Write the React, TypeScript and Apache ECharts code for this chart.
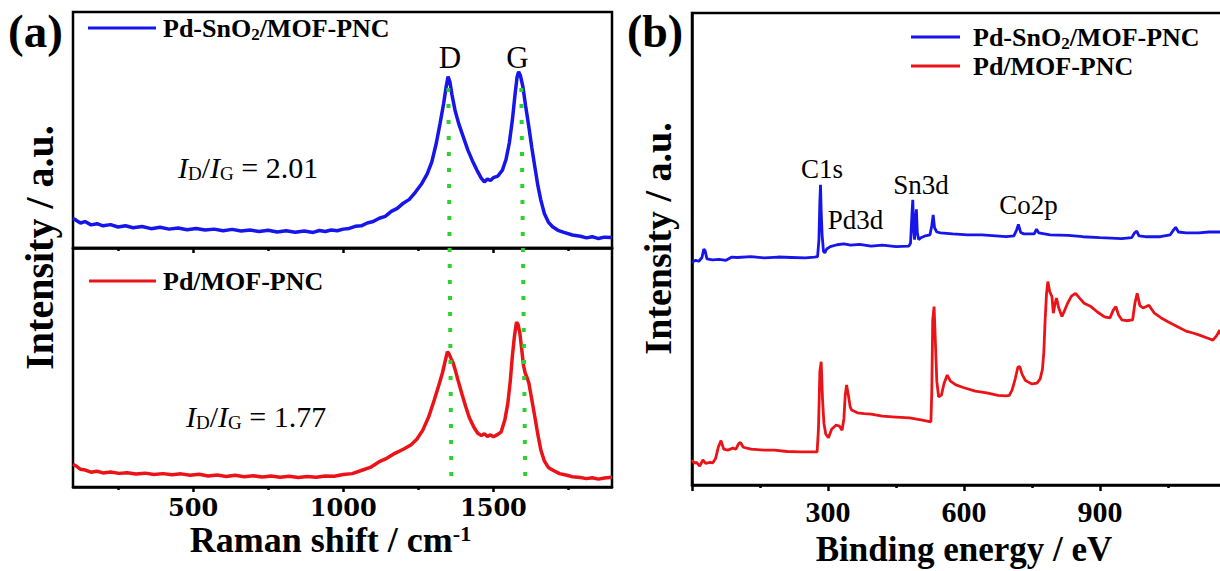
import React, { useEffect, useRef } from 'react';
import * as echarts from 'echarts';

const FONT = '"Liberation Serif", "Times New Roman", serif';
const BLUE = '#1616ea';
const RED = '#ea1418';
const GREEN = '#2fd12f';

const seriesNames = ['Pd-SnO2/MOF-PNC', 'Pd/MOF-PNC'];
const ramanMajorTicks = [500, 1000, 1500];
const ramanMinorTicks = [250, 750, 1250, 1750];
const ratioValues = ['2.01', '1.77'];
const bandNames = ['D', 'G'];
const xpsPeakNames = ['C1s', 'Pd3d', 'Sn3d', 'Co2p'];

// Raman, Pd-SnO2/MOF-PNC (top panel, a.u. 0-100)
const ramanBlue: number[][] = [
  [100, 12.5], [110, 11.8], [125, 10.6], [140, 11.2], [160, 9.8], [180, 10.3], [200, 9.4], [225, 9.9],
  [250, 8.9], [275, 9.4], [300, 8.6], [330, 9.1], [360, 8.2], [390, 8.8], [420, 8.0], [450, 8.5],
  [480, 7.7], [510, 8.3], [540, 7.6], [570, 8.0], [600, 7.3], [630, 7.9], [660, 7.2], [690, 7.6],
  [720, 7.0], [750, 7.5], [780, 6.8], [810, 7.3], [840, 6.7], [870, 7.2], [900, 6.6], [920, 7.4],
  [940, 7.0], [960, 7.6], [980, 7.3], [1000, 8.0], [1020, 8.3], [1040, 9.2], [1060, 9.4], [1080, 10.6],
  [1100, 11.2], [1120, 12.6], [1140, 13.4], [1160, 15.5], [1180, 16.8], [1200, 19.0], [1220, 20.6],
  [1240, 23.6], [1260, 27.0], [1280, 31.5], [1295, 36.5], [1310, 44.5], [1322, 52.5], [1334, 61.0],
  [1343, 68.5], [1349, 72.6], [1355, 70.5], [1362, 65.0], [1372, 58.5], [1385, 52.5], [1400, 47.0],
  [1415, 41.5], [1430, 37.0], [1445, 33.0], [1460, 29.5], [1470, 28.0], [1480, 29.2], [1490, 28.6],
  [1500, 29.8], [1515, 30.5], [1530, 33.0], [1542, 37.5], [1553, 44.5], [1563, 54.0], [1572, 65.0],
  [1579, 72.5], [1584, 74.7], [1590, 73.0], [1598, 68.5], [1607, 60.5], [1618, 51.4], [1628, 42.5],
  [1638, 34.4], [1648, 26.5], [1658, 20.3], [1670, 14.5], [1683, 11.0], [1697, 9.0], [1715, 7.5],
  [1735, 6.6], [1763, 5.5], [1790, 5.0], [1810, 4.3], [1829, 4.8], [1850, 4.0], [1870, 4.6], [1895, 4.5],
];

// Raman, Pd/MOF-PNC (bottom panel, a.u. 0-100)
const ramanRed: number[][] = [
  [100, 9.5], [110, 8.8], [125, 7.4], [141, 7.1], [160, 6.2], [180, 6.6], [200, 5.9], [225, 6.3],
  [253, 5.7], [280, 6.0], [310, 5.4], [340, 5.8], [370, 5.2], [400, 5.6], [430, 5.1], [460, 5.5],
  [490, 4.9], [520, 5.3], [550, 4.6], [580, 5.0], [610, 4.4], [640, 4.9], [670, 4.3], [700, 4.7],
  [730, 4.2], [760, 4.6], [790, 4.1], [820, 4.5], [850, 4.0], [880, 4.4], [910, 4.1], [940, 4.6],
  [970, 4.5], [1000, 5.2], [1030, 5.6], [1060, 6.9], [1090, 8.2], [1120, 10.6], [1145, 12.0],
  [1172, 14.1], [1200, 15.8], [1225, 17.6], [1245, 20.0], [1265, 23.8], [1285, 29.5], [1303, 36.4],
  [1318, 42.5], [1330, 47.6], [1340, 53.0], [1347, 56.6], [1353, 55.5], [1360, 53.5], [1366, 51.9],
  [1374, 48.5], [1382, 44.8], [1395, 39.0], [1408, 33.6], [1420, 29.0], [1435, 25.0], [1448, 22.5],
  [1460, 21.5], [1470, 22.3], [1480, 21.2], [1490, 21.8], [1500, 21.0], [1515, 22.0], [1526, 23.1],
  [1538, 28.0], [1548, 35.0], [1556, 44.0], [1563, 54.5], [1570, 63.0], [1577, 69.0], [1582, 68.0],
  [1588, 64.5], [1594, 58.0], [1600, 51.0], [1606, 47.6], [1612, 45.8], [1618, 43.5], [1628, 36.5],
  [1638, 29.4], [1648, 22.0], [1658, 15.5], [1670, 10.8], [1683, 8.2], [1697, 7.1], [1720, 5.6],
  [1745, 4.9], [1763, 4.3], [1790, 4.0], [1810, 3.5], [1829, 3.9], [1850, 3.3], [1870, 3.8], [1895, 4.1],
];

// D and G band guide lines (overlay spanning both Raman panels)
const dBandLine: number[][] = [[1350, 84.0], [1360, 2.1]];
const gBandLine: number[][] = [[1593, 84.0], [1606, 2.1]];

// XPS survey, Pd-SnO2/MOF-PNC
const xpsBlue: number[][] = [
  [0, 47.2], [8, 47.6], [15, 47.4], [22, 48.2], [26, 50.0], [29, 49.6], [33, 47.9], [45, 47.7],
  [60, 47.8], [75, 47.6], [88, 48.3], [100, 48.2], [130, 48.4], [160, 48.1], [190, 48.3], [220, 48.2],
  [250, 48.1], [270, 48.3], [277, 48.4], [280, 52.0], [282, 60.0], [283.5, 63.6], [285, 58.0],
  [287, 53.0], [290, 49.5], [293, 49.2], [297, 50.0], [305, 50.5], [320, 50.9], [335, 51.1],
  [350, 50.8], [370, 51.0], [395, 50.6], [420, 50.8], [450, 50.5], [478, 50.6], [482, 51.2],
  [485, 57.0], [487, 60.4], [489, 54.0], [491, 52.0], [493, 56.0], [495, 58.4], [497, 53.5],
  [500, 52.0], [505, 52.4], [515, 52.8], [525, 53.0], [529, 55.0], [532, 57.2], [535, 54.5],
  [540, 53.6], [548, 53.4], [575, 53.2], [608, 53.0], [640, 53.0], [670, 52.8], [693, 52.6],
  [710, 52.8], [716, 54.0], [720, 55.2], [725, 53.5], [732, 53.2], [755, 53.2], [760, 54.2],
  [765, 53.4], [790, 53.0], [830, 52.9], [862, 52.6], [900, 52.4], [948, 52.2], [970, 52.4],
  [976, 53.4], [981, 53.8], [986, 52.8], [1000, 52.6], [1033, 52.6], [1055, 53.0], [1062, 54.0],
  [1067, 54.6], [1073, 53.6], [1090, 53.4], [1118, 53.4], [1140, 53.6], [1169, 53.6], [1200, 53.5],
];

// XPS survey, Pd/MOF-PNC
const xpsRed: number[][] = [
  [0, 5.3], [5, 4.6], [10, 4.8], [17, 4.0], [24, 5.3], [30, 4.6], [40, 4.8], [46, 4.7], [52, 5.6],
  [58, 8.0], [64, 9.4], [70, 7.6], [79, 7.4], [90, 7.8], [97, 7.6], [103, 8.8], [107, 9.0], [113, 8.0],
  [130, 7.6], [160, 7.4], [182, 7.4], [210, 7.1], [240, 7.0], [260, 7.0], [276, 7.0], [279, 12.0],
  [282, 24.0], [285, 26.1], [288, 18.0], [291, 13.1], [295, 10.8], [301, 10.0], [308, 11.8],
  [318, 12.7], [325, 12.5], [331, 11.6], [335, 14.0], [338, 19.0], [341, 21.2], [345, 19.0],
  [349, 16.5], [352, 15.9], [365, 15.3], [380, 15.1], [395, 15.0], [420, 14.6], [450, 14.4],
  [480, 14.2], [505, 13.8], [527, 13.4], [529, 20.0], [531, 35.0], [534, 37.8], [537, 30.0],
  [540, 22.0], [544, 18.7], [550, 19.0], [556, 21.5], [563, 23.3], [570, 22.0], [582, 21.2],
  [600, 20.6], [625, 19.9], [650, 19.5], [675, 19.0], [693, 18.9], [700, 19.0], [706, 20.1],
  [713, 22.5], [719, 25.0], [723, 25.1], [728, 23.5], [735, 22.2], [740, 21.9], [750, 21.4],
  [761, 21.6], [768, 22.5], [773, 24.5], [776, 28.0], [779, 35.0], [782, 40.5], [785, 43.1],
  [789, 41.0], [794, 39.9], [797, 36.4], [801, 38.5], [804, 39.6], [809, 37.5], [816, 35.7],
  [822, 37.0], [829, 38.6], [837, 40.0], [846, 40.6], [855, 39.6], [865, 38.5], [880, 37.8],
  [895, 36.6], [910, 35.6], [922, 35.4], [929, 37.0], [935, 37.8], [941, 36.0], [948, 35.0],
  [958, 34.8], [972, 35.0], [977, 38.5], [982, 40.6], [988, 38.0], [995, 37.5], [1002, 37.8],
  [1008, 38.1], [1020, 36.4], [1035, 35.4], [1050, 34.6], [1070, 33.6], [1090, 32.6], [1105, 32.2],
  [1118, 31.8], [1135, 31.2], [1149, 30.7], [1157, 31.6], [1164, 32.8], [1170, 31.0], [1176, 30.4],
  [1200, 29.8],
];

const legendRich = {
  b: { fontFamily: FONT, fontWeight: 'bold', fontSize: 26, color: '#000' },
  s: { fontFamily: FONT, fontWeight: 'bold', fontSize: 17, color: '#000', padding: [12, 0, 0, 0] },
};
const legendFormatter = (name: string) =>
  name === seriesNames[0] ? '{b|Pd-SnO}{s|2}{b|/MOF-PNC}' : '{b|' + name + '}';

const ratioRich = {
  i: { fontFamily: FONT, fontStyle: 'italic', fontSize: 30, fill: '#000' },
  s: { fontFamily: FONT, fontSize: 19, fill: '#000', padding: [13, 0, 0, 0] },
  n: { fontFamily: FONT, fontSize: 30, fill: '#000' },
};
const ratioText = (v: string) => '{i|I}{s|D}{n|/}{i|I}{s|G}{n| = ' + v + '}';

const axisLineStyle = { color: '#000', width: 2.5 };
const plainNumber = (v: number) => String(v);

function ramanAxis(gridIndex: number, minor: boolean, labels: boolean, extra: any = {}) {
  return {
    type: 'value', gridIndex, min: 100, max: 1895, position: 'bottom',
    splitLine: { show: false },
    axisLine: { show: !minor, lineStyle: axisLineStyle },
    axisTick: {
      show: true, inside: false, length: minor ? 3 : 5,
      lineStyle: { color: '#000', width: 2.5 },
      customValues: minor ? ramanMinorTicks : ramanMajorTicks,
    },
    axisLabel: labels
      ? {
          show: true, customValues: ramanMajorTicks, formatter: plainNumber,
          fontFamily: '"DejaVu Serif", serif', fontWeight: 'bold', fontSize: 24, color: '#000', margin: 8,
        }
      : { show: false },
    ...extra,
  };
}

const gridFrame = { show: true, borderColor: '#000', borderWidth: 2.5, backgroundColor: 'transparent', containLabel: false, outerBoundsMode: 'none' };

function textEl(x: number, y: number, text: string, size: number, bold: boolean, extra: any = {}) {
  return {
    type: 'text', x, y, silent: true,
    style: {
      text, fontFamily: FONT, fontSize: size, fontWeight: bold ? 'bold' : 'normal', fill: '#000',
      align: 'center', verticalAlign: 'middle', textAlign: 'center', textVerticalAlign: 'middle',
      ...extra,
    },
  };
}

const option: any = {
  animation: false,
  backgroundColor: '#fff',
  grid: [
    { left: 73, top: 12, width: 539, height: 236, ...gridFrame },
    { left: 73, top: 248, width: 539, height: 239, ...gridFrame },
    { left: 73, top: 12, width: 539, height: 475, show: false, containLabel: false, outerBoundsMode: 'none' },
    { left: 692, top: 13, width: 544, height: 472, ...gridFrame },
  ],
  xAxis: [
    ramanAxis(0, false, false),
    ramanAxis(0, true, false),
    ramanAxis(1, false, true, {
      name: '{b|Raman shift / cm}{p|-1}',
      nameLocation: 'middle',
      nameGap: 35,
      nameMoveOverlap: false,
      nameTextStyle: {
        padding: [0, 24, 0, 0],
        rich: {
          b: { fontFamily: FONT, fontWeight: 'bold', fontSize: 36, color: '#000' },
          p: { fontFamily: FONT, fontWeight: 'bold', fontSize: 22, color: '#000', padding: [0, 0, 14, 0] },
        },
      },
    }),
    ramanAxis(1, true, false),
    { type: 'value', gridIndex: 2, min: 100, max: 1895, show: false },
    {
      type: 'value', gridIndex: 3, min: 0, max: 1200, interval: 300, position: 'bottom',
      splitLine: { show: false },
      axisLine: { show: true, lineStyle: axisLineStyle },
      axisTick: { show: true, inside: false, length: 6, lineStyle: { color: '#000', width: 2.5 } },
      minorTick: { show: true, splitNumber: 2, length: 3, lineStyle: { color: '#000', width: 2.5 } },
      axisLabel: {
        show: true, showMinLabel: false, showMaxLabel: false, formatter: plainNumber,
        fontFamily: FONT, fontWeight: 'bold', fontSize: 30, color: '#000', margin: 11,
      },
      name: 'Binding energy / eV',
      nameLocation: 'middle',
      nameGap: 47,
      nameMoveOverlap: false,
      nameTextStyle: { fontFamily: FONT, fontWeight: 'bold', fontSize: 35, color: '#000' },
    },
  ],
  yAxis: [
    { type: 'value', gridIndex: 0, min: 0, max: 100, show: false },
    { type: 'value', gridIndex: 1, min: 0, max: 100, show: false },
    {
      type: 'value', gridIndex: 2, min: 0, max: 100,
      axisLine: { show: false }, axisTick: { show: false }, axisLabel: { show: false }, splitLine: { show: false },
      name: 'Intensity / a.u.', nameLocation: 'middle', nameGap: 14, nameMoveOverlap: false,
      nameTextStyle: { fontFamily: FONT, fontWeight: 'bold', fontSize: 40, color: '#000', padding: [0, 0, 0, 4] },
    },
    {
      type: 'value', gridIndex: 3, min: 0, max: 100,
      axisLine: { show: true, lineStyle: axisLineStyle }, axisTick: { show: false }, axisLabel: { show: false }, splitLine: { show: false },
      name: 'Intensity / a.u.', nameLocation: 'middle', nameGap: 15, nameMoveOverlap: false,
      nameTextStyle: { fontFamily: FONT, fontWeight: 'bold', fontSize: 38, color: '#000', padding: [0, 0, 0, 21] },
    },
  ],
  legend: [
    {
      data: [seriesNames[0]], left: 88, top: 15, padding: 0, icon: 'rect', itemWidth: 68, itemHeight: 3,
      selectedMode: false, formatter: legendFormatter, textStyle: { rich: legendRich, padding: [0, 0, 0, 2] },
    },
    {
      data: [seriesNames[1]], left: 89, top: 268, padding: 0, icon: 'rect', itemWidth: 67, itemHeight: 3,
      selectedMode: false, formatter: legendFormatter, textStyle: { rich: legendRich, padding: [0, 0, 0, 2] },
    },
    {
      data: seriesNames, left: 911, top: 24, padding: 0, orient: 'vertical', icon: 'rect', itemWidth: 49, itemHeight: 3,
      itemGap: 1.5, selectedMode: false, formatter: legendFormatter, textStyle: { rich: legendRich, padding: [0, 0, 0, 8] },
    },
  ],
  series: [
    {
      type: 'line', name: seriesNames[0], xAxisIndex: 0, yAxisIndex: 0, data: ramanBlue,
      symbol: 'none', showSymbol: false, lineStyle: { color: BLUE, width: 3.5 }, itemStyle: { color: BLUE }, z: 3,
    },
    {
      type: 'line', name: seriesNames[1], xAxisIndex: 2, yAxisIndex: 1, data: ramanRed,
      symbol: 'none', showSymbol: false, lineStyle: { color: RED, width: 3.5 }, itemStyle: { color: RED }, z: 3,
    },
    {
      type: 'line', name: 'D band', xAxisIndex: 4, yAxisIndex: 2, data: dBandLine,
      symbol: 'none', showSymbol: false, lineStyle: { color: GREEN, width: 4, type: [4, 12], cap: 'butt' }, itemStyle: { color: GREEN }, z: 5,
    },
    {
      type: 'line', name: 'G band', xAxisIndex: 4, yAxisIndex: 2, data: gBandLine,
      symbol: 'none', showSymbol: false, lineStyle: { color: GREEN, width: 4, type: [4, 12], cap: 'butt' }, itemStyle: { color: GREEN }, z: 5,
    },
    {
      type: 'line', name: seriesNames[0], xAxisIndex: 5, yAxisIndex: 3, data: xpsBlue,
      symbol: 'none', showSymbol: false, lineStyle: { color: BLUE, width: 2.8 }, itemStyle: { color: BLUE }, z: 3,
    },
    {
      type: 'line', name: seriesNames[1], xAxisIndex: 5, yAxisIndex: 3, data: xpsRed,
      symbol: 'none', showSymbol: false, lineStyle: { color: RED, width: 2.8 }, itemStyle: { color: RED }, z: 3,
    },
  ],
  graphic: [
    textEl(35.5, 31, '(a)', 47, true),
    textEl(655, 31, '(b)', 46, true),
    textEl(450, 57, bandNames[0], 31, false),
    textEl(517.5, 57, bandNames[1], 31, false),
    textEl(178, 167, ratioText(ratioValues[0]), 30, false, { align: 'left', textAlign: 'left', rich: ratioRich }),
    textEl(186, 416, ratioText(ratioValues[1]), 30, false, { align: 'left', textAlign: 'left', rich: ratioRich }),
    textEl(822, 169, xpsPeakNames[0], 27, false),
    textEl(855.5, 220, xpsPeakNames[1], 27, false),
    textEl(921, 185, xpsPeakNames[2], 27, false),
    textEl(1028.5, 205, xpsPeakNames[3], 27, false),
  ],
};

export default function App() {
  const ref = useRef<HTMLDivElement>(null);
  useEffect(() => {
    document.body.style.margin = '0';
    const chart = echarts.init(ref.current as HTMLDivElement, null, { renderer: 'svg' });
    chart.setOption(option);
    return () => chart.dispose();
  }, []);
  return <div ref={ref} style={{ width: 1220, height: 571, background: '#fff' }} />;
}
